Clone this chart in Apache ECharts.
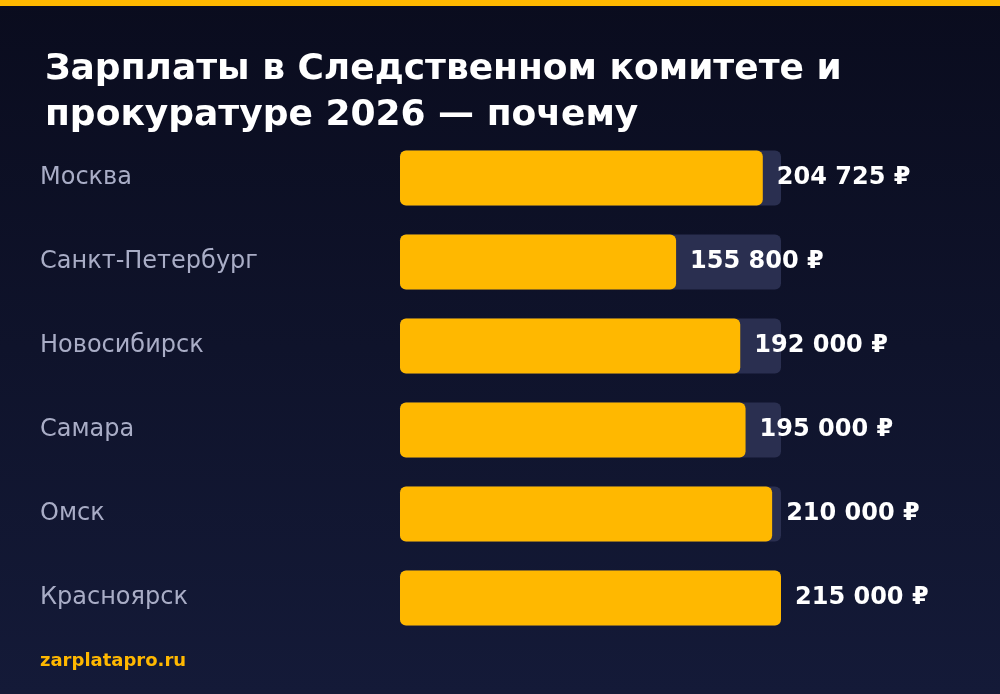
<!DOCTYPE html>
<html><head><meta charset="utf-8">
<script src="https://cdn.jsdelivr.net/npm/echarts@6/dist/echarts.min.js"></script>
<style>html,body{margin:0;padding:0;background:#0b0d1f}#c{width:1000px;height:694px}</style>
</head><body><div id="c"></div>
<script>
const cities = ["Москва","Санкт-Петербург","Новосибирск","Самара","Омск","Красноярск"];
const salaries = [204725,155800,192000,195000,210000,215000];
const titleText = "Зарплаты в Следственном комитете и\nпрокуратуре 2026 — почему";
const footer = "zarplatapro.ru";
const fmt = v => String(v).replace(/\B(?=(\d{3})+(?!\d))/g, " ") + " ₽";
const chart = echarts.init(document.getElementById('c'));
chart.setOption({
  backgroundColor: {type:'linear',x:0,y:0,x2:0,y2:1,colorStops:[{offset:0,color:'#0a0c1e'},{offset:1,color:'#141a38'}]},
  graphic:[
    {type:'rect',shape:{x:0,y:0,width:1000,height:6},style:{fill:'#ffb800'}},
    {type:'text',left:40,top:628+24,style:{text:footer,fill:'#ffb800',font:'bold 18px "DejaVu Sans"'}}
  ],
  title:{text:titleText,left:40,top:42,textStyle:{color:'#ffffff',fontFamily:'DejaVu Sans',fontWeight:'bold',fontSize:36,lineHeight:46}},
  grid:{left:400,width:381,top:136,height:504},
  xAxis:{type:'value',min:0,max:215000,show:false},
  yAxis:{type:'category',data:cities,inverse:true,axisLine:{show:false},axisTick:{show:false},
    axisLabel:{align:'left',margin:360,color:'#a9adc6',fontSize:24,fontFamily:'DejaVu Sans'}},
  series:[{type:'bar',data:salaries,barWidth:55,showBackground:true,
    backgroundStyle:{color:'#2a2f50',borderRadius:6},
    itemStyle:{color:'#ffb800',borderRadius:6},
    label:{show:true,position:'right',distance:14,formatter:p=>fmt(p.value),color:'#ffffff',fontSize:24,fontWeight:'bold',fontFamily:'DejaVu Sans'}}]
});
</script></body></html>
